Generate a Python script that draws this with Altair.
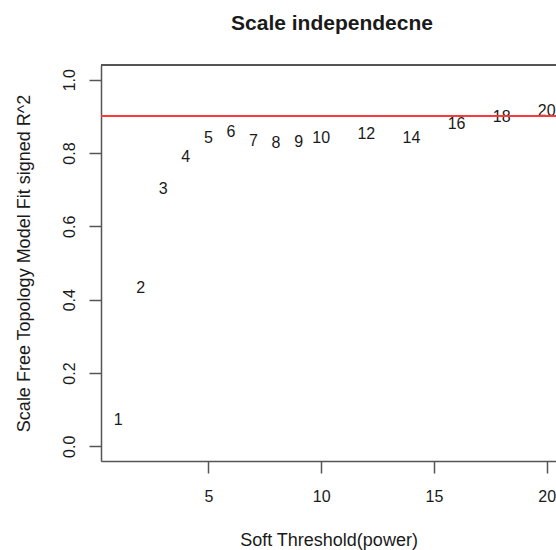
import altair as alt
import pandas as pd

powers = [1, 2, 3, 4, 5, 6, 7, 8, 9, 10, 12, 14, 16, 18, 20]
fit_r2 = [0.071, 0.433, 0.701, 0.789, 0.840, 0.856, 0.832, 0.826, 0.830,
          0.842, 0.851, 0.840, 0.880, 0.897, 0.915]
cutoff = 0.90
x_ticks = [5, 10, 15, 20]
y_ticks = [0.0, 0.2, 0.4, 0.6, 0.8, 1.0]
x_domain = [0.24, 20.41]
y_domain = [-0.04, 1.04]

df = pd.DataFrame({"power": powers, "r2": fit_r2, "label": [str(p) for p in powers]})

FONT = "Liberation Sans"
LINE = "#555555"

xs = alt.Scale(domain=x_domain, nice=False, zero=False)
ys = alt.Scale(domain=y_domain, nice=False, zero=False)

x_axis = alt.Axis(values=x_ticks, title="Soft Threshold(power)", grid=False,
                  domainColor=LINE, domainWidth=1.5, tickColor=LINE, tickWidth=1.5,
                  tickSize=12, labelPadding=15, labelFontSize=16, labelFont=FONT,
                  labelColor="#1a1a1a", labelBaseline="top",
                  titleFont=FONT, titleFontSize=18, titleFontWeight="normal",
                  titleColor="#1a1a1a", titleBaseline="alphabetic", titleY=84)
y_axis = alt.Axis(values=y_ticks, format=".1f",
                  title="Scale Free Topology Model Fit signed R^2", grid=False,
                  domainColor=LINE, domainWidth=1.5, tickColor=LINE, tickWidth=1.5,
                  tickSize=12, labelPadding=15, labelFontSize=16, labelFont=FONT,
                  labelColor="#1a1a1a", labelAngle=270, labelAlign="center",
                  labelBaseline="alphabetic",
                  titleFont=FONT, titleFontSize=18, titleFontWeight="normal",
                  titleColor="#1a1a1a", titleBaseline="alphabetic", titleX=-72,
                  titleY=198, titleAngle=270)

labels = alt.Chart(df).mark_text(font=FONT, fontSize=16, color="#1a1a1a",
                                 align="center", baseline="middle").encode(
    x=alt.X("power:Q", scale=xs, axis=x_axis),
    y=alt.Y("r2:Q", scale=ys, axis=y_axis),
    text="label:N",
)

redline = alt.Chart(df).mark_rule(color="#ff3b3b", strokeWidth=1.4).encode(
    y=alt.YDatum(cutoff)
)

topline = alt.Chart(df).mark_rule(color=LINE, strokeWidth=1.5).encode(
    x=alt.XDatum(x_domain[0]), x2=alt.X2Datum(x_domain[1]), y=alt.YDatum(y_domain[1])
)

chart = alt.layer(labels, redline, topline).properties(
    width=455, height=396,
    autosize=alt.AutoSizeParams(type="none"),
    padding={"left": 101, "top": 65, "right": 0, "bottom": 89},
    title=alt.TitleParams("Scale independecne", font=FONT, fontSize=21,
                          fontWeight="bold", color="#1a1a1a", anchor="middle",
                          baseline="alphabetic", offset=13, dx=3.5),
).configure_view(stroke=None).configure(background="white")

chart.save("out.html", embed_options={"renderer": "svg", "actions": False})
